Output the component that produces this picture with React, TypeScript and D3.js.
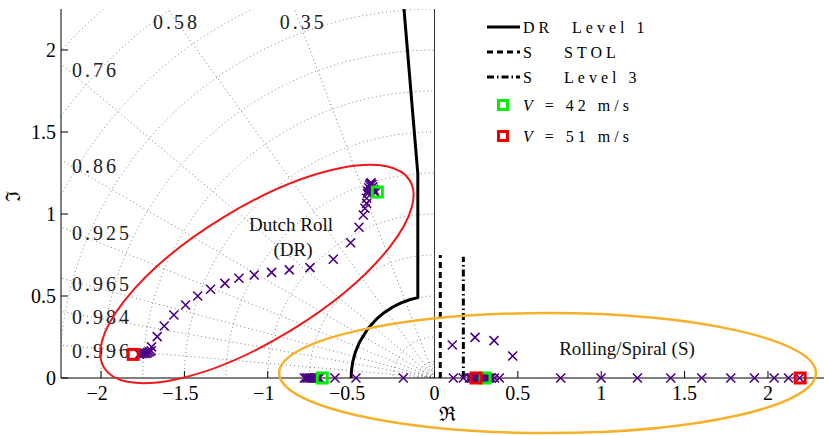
import * as d3 from 'd3';

// plot frame
const W = 824;
const H = 436;

// axis ticks
const xTicks = [-2, -1.5, -1, -0.5, 0, 0.5, 1, 1.5, 2];
const yTicks = [0, 0.5, 1, 1.5, 2];

// s-plane grid (damping ratio rays + natural frequency arcs)
const zetaValues = [0.35, 0.58, 0.76, 0.86, 0.925, 0.965, 0.984, 0.996];
const wnValues = [0.015, 0.03, 0.045, 0.06, 0.08, 0.1, 0.25, 0.5, 0.75, 1, 1.25, 1.5, 1.75, 2, 2.25, 2.5, 2.75, 3];

// handling qualities boundaries
const drLevel1Re = [-0.183, -0.1, -0.1, -0.15, -0.2, -0.25, -0.3, -0.35, -0.4, -0.45, -0.475, -0.49, -0.498, -0.5];
const drLevel1Im = [2.25, 1.245, 0.49, 0.477, 0.458, 0.433, 0.4, 0.357, 0.3, 0.218, 0.156, 0.1, 0.045, 0];
const sStolRe = [0.0347, 0.0347];
const sStolIm = [0, 0.75];
const sLevel3Re = [0.173, 0.173];
const sLevel3Im = [0, 0.74];

// Dutch roll locus
const drLocusRe = [-1.77, -1.76, -1.75, -1.74, -1.73, -1.72, -1.71, -1.70, -1.697, -1.663, -1.621, -1.563, -1.493,
  -1.42, -1.343, -1.257, -1.173, -1.081, -0.977, -0.871, -0.747, -0.607, -0.503, -0.453, -0.427, -0.417, -0.407,
  -0.407, -0.401, -0.40, -0.395, -0.39, -0.385, -0.38, -0.375, -0.37, -0.365, -0.36, -0.355];
const drLocusIm = [0.145, 0.15, 0.148, 0.152, 0.15, 0.155, 0.16, 0.165, 0.19, 0.252, 0.317, 0.384, 0.445,
  0.5, 0.541, 0.577, 0.608, 0.628, 0.644, 0.659, 0.673, 0.724, 0.825, 0.919, 0.994, 1.035, 1.065,
  1.096, 1.126, 1.14, 1.16, 1.175, 1.185, 1.19, 1.18, 1.165, 1.15, 1.14, 1.13];

// roll / spiral locus
const rsLocusRe = [-0.78, -0.77, -0.76, -0.75, -0.74, -0.73, -0.72, -0.71, -0.70, -0.69, -0.597, -0.471, -0.187,
  0.113, 0.173, 0.21, 0.22, 0.23, 0.24, 0.26, 0.27, 0.28, 0.29, 0.31, 0.32, 0.33, 0.34, 0.36, 0.389,
  0.757, 0.999, 1.217, 1.417, 1.603, 1.777, 1.919, 2.037, 2.123, 2.19,
  0.107, 0.243, 0.357, 0.469];
const rsLocusIm = [0, 0, 0, 0, 0, 0, 0, 0, 0, 0, 0, 0, 0,
  0, 0, 0, 0, 0, 0, 0, 0, 0, 0, 0, 0, 0, 0, 0, 0,
  0, 0, 0, 0, 0, 0, 0, 0, 0, 0,
  0.201, 0.248, 0.228, 0.134];

// flight speed markers
const v42Re = [-0.343, -0.673, 0.303];
const v42Im = [1.134, 0, 0];
const v51Re = [-1.807, 0.249, 2.193];
const v51Im = [0.144, 0, 0];

const PURPLE = '#4B0082';
const GRID = '#7a7a7a';
const SERIF = '"Liberation Serif", "DejaVu Serif", serif';

export default function App() {
  const x = d3.scaleLinear().domain([-2.24, 2.33]).range([61, 823]);
  const y = d3.scaleLinear().domain([0, 2.25]).range([378, 9]);
  const kx = x(1) - x(0);
  const ky = y(0) - y(1);

  const line = d3.line<[number, number]>().x(d => x(d[0])).y(d => y(d[1]));
  const pts = (re: number[], im: number[]) => re.map((r, i) => [r, im[i]] as [number, number]);

  const xMin = x.domain()[0];
  const yMax = y.domain()[1];

  const rays = zetaValues.map(z => {
    const dx = -z;
    const dy = Math.sqrt(1 - z * z);
    const t = Math.min(-xMin / z, yMax / dy);
    const ex = dx * t;
    const ey = dy * t;
    const top = yMax / dy < -xMin / z;
    return { z, ex, ey, top };
  });

  const cross = (cx: number, cy: number, s = 4.5) =>
    `M${cx - s},${cy - s}L${cx + s},${cy + s}M${cx - s},${cy + s}L${cx + s},${cy - s}`;

  return (
    <svg width={W} height={H} style={{ position: 'absolute', left: 0, top: 0, background: '#fff' }}>
      <defs>
        <clipPath id="lhp">
          <rect x={61} y={9} width={x(0) - 61} height={y(0) - 9} />
        </clipPath>
        <clipPath id="plot">
          <rect x={61} y={9} width={823 - 61} height={y(0) - 9} />
        </clipPath>
      </defs>

      {/* grid */}
      <g clipPath="url(#lhp)" fill="none" stroke={GRID} strokeWidth={1} strokeDasharray="1,3">
        {wnValues.map(w => (
          <ellipse key={w} cx={x(0)} cy={y(0)} rx={w * kx} ry={w * ky} />
        ))}
        {rays.map(r => (
          <line key={r.z} x1={x(0)} y1={y(0)} x2={x(r.ex)} y2={y(r.ey)} />
        ))}
      </g>
      <g fontFamily={SERIF} fontSize={20} fill="#222" letterSpacing={3}>
        {rays.map(r =>
          r.top ? (
            <text key={r.z} x={x(r.ex) + 9} y={29} textAnchor="middle">{r.z}</text>
          ) : (
            <text key={r.z} x={72} y={y(r.ey) + 13}>{r.z}</text>
          )
        )}
      </g>

      {/* axes */}
      <line x1={x(0)} x2={x(0)} y1={9} y2={y(0)} stroke="#000" strokeWidth={0.8} />
      <line x1={61} x2={61} y1={9} y2={y(0)} stroke="#000" strokeWidth={1} />
      <line x1={61} x2={824} y1={y(0)} y2={y(0)} stroke="#000" strokeWidth={1.2} />
      <g fontFamily={SERIF} fontSize={20} fill="#000">
        {yTicks.map(t => (
          <g key={t}>
            <line x1={61} x2={68} y1={y(t)} y2={y(t)} stroke="#000" />
            <text x={56} y={y(t) + 7} textAnchor="end">{t}</text>
          </g>
        ))}
        {xTicks.map(t => (
          <g key={t}>
            <line x1={x(t)} x2={x(t)} y1={y(0)} y2={y(0) - 7} stroke="#000" />
            <text x={x(t) - (t < 0 ? 4 : 0)} y={400} textAnchor="middle">{t < 0 ? '\u2212' + Math.abs(t) : t}</text>
          </g>
        ))}
        <text x={447} y={421} textAnchor="middle" fontSize={20}>ℜ</text>
        <text transform="translate(20,196) rotate(-90)" textAnchor="middle" fontSize={20}>ℑ</text>
      </g>

      {/* boundaries */}
      <g clipPath="url(#plot)" fill="none" stroke="#000" strokeWidth={3}>
        <path d={line(pts(drLevel1Re, drLevel1Im)) || ''} strokeLinejoin="round" />
        <path d={line(pts(sStolRe, sStolIm)) || ''} strokeDasharray="6,4" />
        <path d={line(pts(sLevel3Re, sLevel3Im)) || ''} strokeDasharray="7,3,1.5,3" />
      </g>

      {/* mode ellipses */}
      <ellipse cx={x(-1.065)} cy={y(0.634)} rx={1.075 * kx} ry={0.395 * kx}
        transform={`rotate(-31.5 ${x(-1.065)} ${y(0.634)})`} fill="none" stroke="#F01818" strokeWidth={2} />
      <ellipse cx={x(0.678)} cy={y(0.03)} rx={1.61 * kx} ry={0.366 * ky}
        fill="none" stroke="#F6B12B" strokeWidth={2.5} />

      {/* loci */}
      <g stroke={PURPLE} strokeWidth={1.6} fill="none">
        {pts(drLocusRe, drLocusIm).map((p, i) => (
          <path key={'d' + i} d={cross(x(p[0]), y(p[1]))} />
        ))}
        {pts(rsLocusRe, rsLocusIm).map((p, i) => (
          <path key={'r' + i} d={cross(x(p[0]), y(p[1]))} />
        ))}
      </g>
      <g fill="none" strokeWidth={3}>
        {pts(v42Re, v42Im).map((p, i) => (
          <rect key={'g' + i} x={x(p[0]) - 5} y={y(p[1]) - 5} width={10} height={10} stroke="#00F000" />
        ))}
        {pts(v51Re, v51Im).map((p, i) => (
          <rect key={'s' + i} x={x(p[0]) - 5} y={y(p[1]) - 5} width={10} height={10} stroke="#F00000" />
        ))}
      </g>

      {/* annotations */}
      <g fontFamily={SERIF} fontSize={19} fill="#111" textAnchor="middle">
        <text x={291} y={231}>Dutch Roll</text>
        <text x={293} y={256}>(DR)</text>
        <text x={627} y={355}>Rolling/Spiral (S)</text>
      </g>

      {/* legend */}
      <g fontFamily={SERIF} fontSize={16} fill="#000" letterSpacing={4}>
        <line x1={487} x2={520} y1={27} y2={27} stroke="#000" strokeWidth={3} />
        <text x={523} y={33}>DR</text>
        <text x={572} y={33}>Level 1</text>
        <line x1={487} x2={520} y1={52} y2={52} stroke="#000" strokeWidth={3} strokeDasharray="6,4" />
        <text x={523} y={58}>S</text>
        <text x={564} y={58}>STOL</text>
        <line x1={487} x2={520} y1={77} y2={77} stroke="#000" strokeWidth={3} strokeDasharray="7,3,1.5,3" />
        <text x={523} y={83}>S</text>
        <text x={564} y={83}>Level 3</text>
        <rect x={498.5} y={100.5} width={9} height={9} fill="none" stroke="#00F000" strokeWidth={3} />
        <text x={523} y={111}><tspan fontStyle="italic">V</tspan> = 42 m/s</text>
        <rect x={498.5} y={131.5} width={9} height={9} fill="none" stroke="#F00000" strokeWidth={3} />
        <text x={523} y={142}><tspan fontStyle="italic">V</tspan> = 51 m/s</text>
      </g>
    </svg>
  );
}
